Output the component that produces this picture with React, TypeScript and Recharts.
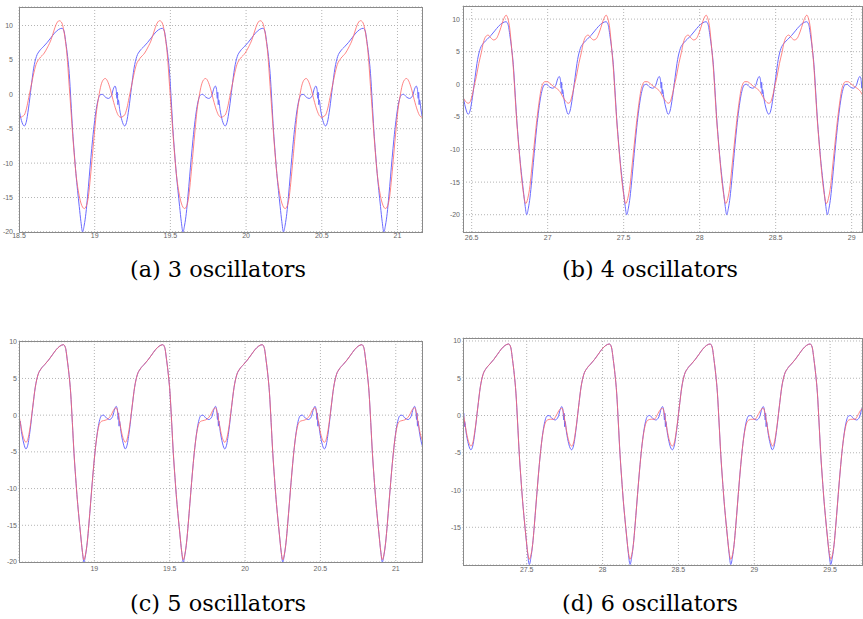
import React from "react";
import { LineChart, Line, XAxis, YAxis, CartesianGrid } from "recharts";

// One period of the reference (blue) waveform: offset from the small trough, value
const blueDt = [0.0, 0.012, 0.028, 0.045, 0.062, 0.08, 0.1, 0.125, 0.15, 0.175, 0.2, 0.225, 0.249, 0.262, 0.275, 0.286, 0.297, 0.308, 0.319, 0.33, 0.341, 0.352, 0.363, 0.374, 0.385, 0.396, 0.407, 0.418, 0.429, 0.44, 0.451, 0.465, 0.478, 0.49, 0.5, 0.515, 0.535, 0.555, 0.575, 0.59, 0.599, 0.607, 0.612, 0.615, 0.618, 0.621, 0.63, 0.645];
const blueV = [-4.6, -4.1, -2.0, 1.0, 3.8, 5.5, 6.3, 6.9, 7.5, 8.2, 8.9, 9.4, 9.6, 9.2, 7.4, 5.5, 3.0, -1.0, -5.2, -8.5, -11.5, -14.0, -16.3, -18.5, -20.0, -19.0, -17.3, -14.8, -12.0, -9.2, -6.6, -3.8, -1.8, -0.6, -0.1, 0.0, -0.4, -0.6, -0.2, 0.9, 1.2, 0.7, -0.6, 0.3, -1.5, -0.8, -2.2, -3.8];

// red approximations, one period each
const redADt = [0.0, 0.015, 0.029, 0.044, 0.06, 0.077, 0.1, 0.132, 0.155, 0.176, 0.195, 0.209, 0.231, 0.245, 0.258, 0.27, 0.279, 0.297, 0.308, 0.319, 0.33, 0.341, 0.358, 0.374, 0.396, 0.41, 0.423, 0.437, 0.451, 0.465, 0.478, 0.492, 0.507, 0.521, 0.535, 0.55, 0.566, 0.586, 0.606, 0.622, 0.639, 0.652];
const redAV = [-3.0, -2.0, -0.5, 1.1, 2.8, 4.3, 5.2, 6.0, 6.9, 7.9, 9.2, 10.1, 10.7, 10.5, 9.6, 8.0, 6.4, 1.1, -2.3, -5.7, -8.8, -11.5, -14.2, -15.8, -16.6, -16.2, -14.9, -12.0, -8.6, -5.2, -2.3, -0.3, 1.35, 2.1, 2.3, 1.9, 0.9, -0.8, -2.3, -3.1, -3.35, -3.2];

const redBDt = [0.0, 0.01, 0.025, 0.04, 0.054, 0.07, 0.087, 0.1, 0.115, 0.131, 0.15, 0.168, 0.185, 0.2, 0.215, 0.23, 0.25, 0.262, 0.274, 0.286, 0.297, 0.308, 0.319, 0.33, 0.341, 0.352, 0.363, 0.379, 0.392, 0.407, 0.418, 0.429, 0.44, 0.451, 0.465, 0.478, 0.49, 0.504, 0.52, 0.54, 0.56, 0.58, 0.603, 0.62, 0.636, 0.65];
const redBV = [-2.9, -2.8, -1.8, -0.2, 1.2, 3.2, 4.9, 6.4, 7.3, 7.55, 7.1, 6.8, 7.0, 7.7, 8.7, 9.8, 10.6, 10.0, 8.5, 5.5, 2.5, -1.5, -5.5, -8.8, -11.8, -14.5, -16.6, -18.3, -17.5, -15.5, -13.0, -10.5, -8.0, -5.6, -3.0, -1.0, 0.0, 0.4, 0.4, 0.1, -0.3, -0.6, -1.1, -1.8, -2.4, -2.8];

const redCDt = [0.0, 0.012, 0.028, 0.045, 0.062, 0.08, 0.1, 0.125, 0.15, 0.175, 0.2, 0.225, 0.249, 0.262, 0.275, 0.286, 0.297, 0.308, 0.319, 0.33, 0.341, 0.352, 0.363, 0.374, 0.385, 0.396, 0.407, 0.418, 0.429, 0.44, 0.451, 0.465, 0.478, 0.49, 0.505, 0.525, 0.545, 0.565, 0.585, 0.599, 0.612, 0.625, 0.64, 0.652];
const redCV = [-3.7, -3.3, -1.6, 1.1, 3.8, 5.5, 6.3, 6.9, 7.5, 8.2, 8.9, 9.4, 9.6, 9.2, 7.4, 5.5, 3.0, -1.0, -5.2, -8.5, -11.5, -14.0, -16.3, -18.5, -19.7, -18.9, -17.3, -14.8, -12.0, -9.2, -6.6, -3.8, -2.0, -1.1, -0.8, -0.7, -0.5, 0.0, 0.8, 1.0, 0.2, -1.3, -2.8, -3.5];

const redDDt = [0.0, 0.012, 0.028, 0.045, 0.062, 0.08, 0.1, 0.125, 0.15, 0.175, 0.2, 0.225, 0.249, 0.262, 0.275, 0.286, 0.297, 0.308, 0.319, 0.33, 0.341, 0.352, 0.363, 0.374, 0.385, 0.396, 0.407, 0.418, 0.429, 0.44, 0.451, 0.465, 0.478, 0.49, 0.505, 0.525, 0.545, 0.565, 0.585, 0.599, 0.612, 0.625, 0.64, 0.652];
const redDV = [-4.1, -3.7, -1.8, 1.0, 3.8, 5.5, 6.3, 6.9, 7.5, 8.2, 8.9, 9.4, 9.6, 9.2, 7.4, 5.5, 3.0, -1.0, -5.2, -8.5, -11.5, -14.0, -16.3, -18.3, -19.3, -18.7, -17.3, -14.8, -12.0, -9.2, -6.6, -3.8, -2.0, -1.0, -0.6, -0.5, -0.5, 0.1, 0.8, 1.0, 0.2, -1.4, -3.0, -3.8];

// start times of each period (small trough of the blue trace)
const cyclesA = [17.871, 18.535, 19.198, 19.862, 20.525, 21.189];
const cyclesB = [25.817, 26.477, 27.135, 27.793, 28.455, 29.117];
const cyclesC = [17.886, 18.546, 19.205, 19.865, 20.526, 21.186];
const cyclesD = [26.47, 27.132, 27.796, 28.46, 29.119, 29.781];

// axis ticks
const xTicksA = [18.5, 19, 19.5, 20, 20.5, 21];
const xTicksB = [26.5, 27, 27.5, 28, 28.5, 29];
const xTicksC = [19, 19.5, 20, 20.5, 21];
const xTicksD = [27.5, 28, 28.5, 29, 29.5];
const yTicksABC = [-20, -15, -10, -5, 0, 5, 10];
const yTicksD = [-15, -10, -5, 0, 5, 10];

const captions = ["(a) 3 oscillators", "(b) 4 oscillators", "(c) 5 oscillators", "(d) 6 oscillators"];

type Pt = { t: number; v: number };

function build(starts: number[], dts: number[], vs: number[], lo: number, hi: number): Pt[] {
  const out: Pt[] = [];
  for (const s of starts) {
    for (let i = 0; i < dts.length; i++) {
      const t = s + dts[i];
      if (t >= lo - 0.07 && t <= hi + 0.07) out.push({ t: Math.round(t * 10000) / 10000, v: vs[i] });
    }
  }
  return out;
}

type Panel = {
  rect: { x: number; y: number; w: number; h: number };
  xDom: [number, number];
  yDom: [number, number];
  xTicks: number[];
  yTicks: number[];
  blue: Pt[];
  red: Pt[];
  xMargin: number;
  yMargin: number;
};

const panels: Panel[] = [
  {
    rect: { x: 19, y: 7, w: 403, h: 225 },
    xDom: [18.5, 21.162],
    yDom: [-20.01, 12.69],
    xTicks: xTicksA,
    yTicks: yTicksABC,
    blue: build(cyclesA, blueDt, blueV, 18.5, 21.162),
    red: build(cyclesA, redADt, redAV, 18.5, 21.162),
    xMargin: 1,
    yMargin: 6,
  },
  {
    rect: { x: 463, y: 6, w: 399, h: 226 },
    xDom: [26.443, 29.068],
    yDom: [-22.65, 12.01],
    xTicks: xTicksB,
    yTicks: yTicksABC,
    blue: build(cyclesB, blueDt, blueV, 26.443, 29.068),
    red: build(cyclesB, redBDt, redBV, 26.443, 29.068),
    xMargin: 3,
    yMargin: 3,
  },
  {
    rect: { x: 19, y: 341, w: 403, h: 221 },
    xDom: [18.5, 21.174],
    yDom: [-20.0, 10.1],
    xTicks: xTicksC,
    yTicks: yTicksABC,
    blue: build(cyclesC, blueDt, blueV, 18.5, 21.174),
    red: build(cyclesC, redCDt, redCV, 18.5, 21.174),
    xMargin: 4,
    yMargin: 2,
  },
  {
    rect: { x: 463, y: 338, w: 399, h: 227 },
    xDom: [27.08, 29.71],
    yDom: [-20.06, 10.4],
    xTicks: xTicksD,
    yTicks: yTicksD,
    blue: build(cyclesD, blueDt, blueV, 27.08, 29.71),
    red: build(cyclesD, redDDt, redDV, 27.08, 29.71),
    xMargin: 2,
    yMargin: 2,
  },
];

const YW = 20;
const XH = 16;
const TOP = 6;
const RIGHT = 1;
const tickStyle = { fontSize: 7, fill: "#666", fontFamily: "Liberation Sans, Arial, sans-serif" };

function PanelChart({ p }: { p: Panel }) {
  const { rect } = p;
  const w = rect.w + YW + RIGHT;
  const h = rect.h + TOP + XH;
  return (
    <>
      <div style={{ position: "absolute", left: rect.x - YW, top: rect.y - TOP, width: w, height: h }}>
        <LineChart width={w} height={h} margin={{ top: TOP, right: RIGHT, left: 0, bottom: 0 }}>
          <CartesianGrid stroke="#b4b4b4" strokeDasharray="1 2" />
          <XAxis
            dataKey="t"
            type="number"
            domain={p.xDom}
            ticks={p.xTicks}
            allowDataOverflow
            height={XH}
            tickSize={0}
            tickMargin={p.xMargin}
            axisLine={false}
            tickLine={false}
            tick={tickStyle}
            interval={0}
            tickFormatter={(v: number) => String(v)}
          />
          <YAxis
            dataKey="v"
            type="number"
            domain={p.yDom}
            ticks={p.yTicks}
            allowDataOverflow
            width={YW}
            tickSize={0}
            tickMargin={p.yMargin}
            axisLine={false}
            tickLine={false}
            tick={tickStyle}
            interval={0}
          />
          <Line data={p.blue} dataKey="v" type="monotone" stroke="#6a6aff" strokeWidth={1} dot={false} isAnimationActive={false} />
          <Line data={p.red} dataKey="v" type="monotone" stroke="#ff6666" strokeOpacity={0.8} strokeWidth={1} dot={false} isAnimationActive={false} />
        </LineChart>
      </div>
      <div
        style={{
          position: "absolute",
          left: rect.x,
          top: rect.y,
          width: rect.w - 1,
          height: rect.h - 1,
          border: "1px solid #8a8a8a",
          pointerEvents: "none",
        }}
      />
    </>
  );
}

export default function App() {
  const capPos = [
    { x: 218, y: 277 },
    { x: 650, y: 277 },
    { x: 218, y: 611 },
    { x: 650, y: 611 },
  ];
  return (
    <div style={{ position: "absolute", left: 0, top: 0, width: 863, height: 619, background: "#fff", overflow: "hidden" }}>
      {panels.map((p, i) => (
        <PanelChart key={i} p={p} />
      ))}
      <svg width={863} height={619} style={{ position: "absolute", left: 0, top: 0, pointerEvents: "none" }}>
        {captions.map((c, i) => (
          <text
            key={i}
            x={capPos[i].x}
            y={capPos[i].y}
            textAnchor="middle"
            fontFamily="DejaVu Serif"
            fontSize={22}
            fill="#000"
            textLength={176}
            lengthAdjust="spacingAndGlyphs"
          >
            {c}
          </text>
        ))}
      </svg>
    </div>
  );
}
